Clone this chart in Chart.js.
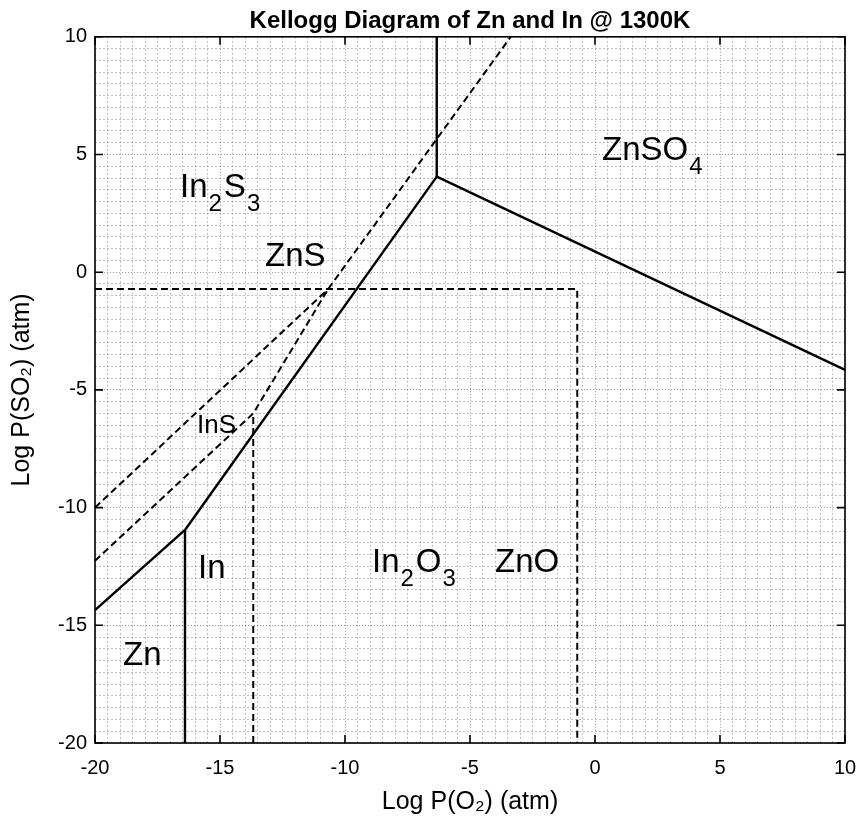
<!DOCTYPE html>
<html>
<head>
<meta charset="utf-8">
<script src="https://cdn.jsdelivr.net/npm/chart.js@4.4.1/dist/chart.umd.min.js"></script>
<style>
html,body{margin:0;padding:0;background:#fff;}
#wrap{width:858px;height:822px;}
</style>
</head>
<body>
<div id="wrap"><canvas id="c" width="858" height="822"></canvas></div>
<script>
// ---- text ----
const titleText = 'Kellogg Diagram of Zn and In @ 1300K';
const xAxisTitle = 'Log P(O\u2082) (atm)';
const yAxisTitle = 'Log P(SO\u2082) (atm)';

// ---- axis ranges / ticks ----
const xMin = -20, xMax = 10;
const yMin = -20, yMax = 10;
const majorStep = 5;
const minorStep = 0.5;

// ---- Zn system boundaries (solid) : log P(O2), log P(SO2) ----
const znZnS_O2   = [-20, -16.4];
const znZnS_SO2  = [-14.35, -10.95];
const znZnO_O2   = [-16.4, -16.4];
const znZnO_SO2  = [-20, -10.95];
const znsZnO_O2  = [-16.4, -6.33];
const znsZnO_SO2 = [-10.95, 4.06];
const znsZnSO4_O2  = [-6.33, -6.33];
const znsZnSO4_SO2 = [4.06, 10];
const znoZnSO4_O2  = [-6.33, 10];
const znoZnSO4_SO2 = [4.06, -4.15];

// ---- In system boundaries (dashed) ----
const insIn2S3_O2  = [-20, -10.67];
const insIn2S3_SO2 = [-10, -0.71];
const inInS_O2  = [-20, -13.67, -10.67];
const inInS_SO2 = [-12.26, -6.0, -0.71];
const in2s3In2O3_O2  = [-10.67, -3.37];
const in2s3In2O3_SO2 = [-0.71, 10];
const sulfateEdge_O2  = [-20, -0.71, -0.71];
const sulfateEdge_SO2 = [-0.71, -0.71, -20];
const inIn2O3_O2  = [-13.67, -13.67];
const inIn2O3_SO2 = [-20, -6.0];

// ---- region labels ----
const regionNames = ['In_2S_3', 'ZnS', 'ZnSO_4', 'InS', 'In', 'Zn', 'In_2O_3', 'ZnO'];
const regionO2    = [-16.6, -13.2, 0.28, -15.92, -15.88, -18.88, -8.92, -4.0];
const regionSO2   = [3.2, 0.27, 4.77, -6.83, -12.99, -16.69, -12.74, -12.74];
const regionFontSize = [33, 33, 33, 26, 33, 33, 33, 33];

const FONT = '"Liberation Sans", Arial, Helvetica, sans-serif';

function pts(xs, ys){ return xs.map((v,i)=>({x:v, y:ys[i]})); }

function solid(xs, ys){
  return {data: pts(xs, ys), showLine:true, borderColor:'#000', borderWidth:2.4,
          pointRadius:0, fill:false, tension:0};
}
function dashed(xs, ys){
  return {data: pts(xs, ys), showLine:true, borderColor:'#000', borderWidth:2,
          borderDash:[7,4], pointRadius:0, fill:false, tension:0};
}

function drawSubText(ctx, str, px, py, size){
  const subSize = Math.round(size*0.72);
  const drop = size*0.42;
  let x = px;
  ctx.textAlign = 'left';
  ctx.textBaseline = 'alphabetic';
  ctx.fillStyle = '#000';
  for (let i=0;i<str.length;i++){
    const ch = str[i];
    if (ch === '_' && i+1 < str.length){
      const s = str[i+1]; i++;
      ctx.font = subSize + 'px ' + FONT;
      ctx.fillText(s, x + 1, py + drop);
      x += ctx.measureText(s).width + 3;
    } else {
      ctx.font = size + 'px ' + FONT;
      ctx.fillText(ch, x, py);
      x += ctx.measureText(ch).width;
    }
  }
}

const overlay = {
  id:'overlay',
  afterLayout(chart){
    if (chart.titleBlock){
      chart.titleBlock.left = chart.chartArea.left;
      chart.titleBlock.right = chart.chartArea.right;
    }
  },
  afterDraw(chart){
    const {ctx, chartArea:a, scales:{x, y}} = chart;
    ctx.save();
    ctx.strokeStyle = '#000';
    ctx.lineWidth = 1.6;
    ctx.setLineDash([]);
    ctx.strokeRect(a.left, a.top, a.right-a.left, a.bottom-a.top);
    const tl = 8;
    ctx.beginPath();
    for (let v=xMin; v<=xMax; v+=majorStep){
      const p = x.getPixelForValue(v);
      ctx.moveTo(p, a.bottom); ctx.lineTo(p, a.bottom-tl);
      ctx.moveTo(p, a.top); ctx.lineTo(p, a.top+tl);
    }
    for (let v=yMin; v<=yMax; v+=majorStep){
      const p = y.getPixelForValue(v);
      ctx.moveTo(a.left, p); ctx.lineTo(a.left+tl, p);
      ctx.moveTo(a.right, p); ctx.lineTo(a.right-tl, p);
    }
    ctx.stroke();
    regionNames.forEach((name, i)=>{
      drawSubText(ctx, name, x.getPixelForValue(regionO2[i]), y.getPixelForValue(regionSO2[i]), regionFontSize[i]);
    });
    ctx.restore();
  }
};

function isMajor(v){ return Math.abs(v/majorStep - Math.round(v/majorStep)) < 1e-9; }

function gridColor(c){ return (c.tick && isMajor(c.tick.value)) ? 'rgba(0,0,0,0.4)' : 'rgba(0,0,0,0.25)'; }
function gridDash(c){ return (c.tick && isMajor(c.tick.value)) ? [1,2] : [2,2]; }

new Chart(document.getElementById('c'), {
  type:'scatter',
  data:{
    datasets:[
      solid(znZnS_O2, znZnS_SO2),
      solid(znZnO_O2, znZnO_SO2),
      solid(znsZnO_O2, znsZnO_SO2),
      solid(znsZnSO4_O2, znsZnSO4_SO2),
      solid(znoZnSO4_O2, znoZnSO4_SO2),
      dashed(insIn2S3_O2, insIn2S3_SO2),
      dashed(inInS_O2, inInS_SO2),
      dashed(in2s3In2O3_O2, in2s3In2O3_SO2),
      dashed(sulfateEdge_O2, sulfateEdge_SO2),
      dashed(inIn2O3_O2, inIn2O3_SO2)
    ]
  },
  options:{
    responsive:false,
    animation:false,
    devicePixelRatio:1,
    layout:{padding:{top:0, right:13, bottom:0, left:0}},
    plugins:{
      legend:{display:false},
      tooltip:{enabled:false},
      title:{display:true, text:titleText, color:'#000',
             font:{family:FONT, size:24, weight:'bold'}, padding:{top:7, bottom:1}}
    },
    scales:{
      x:{
        type:'linear', min:xMin, max:xMax,
        afterFit(s){ s.height = 79; s.paddingLeft = 0; s.paddingRight = 0; },
        ticks:{stepSize:minorStep, autoSkip:false, maxRotation:0, maxTicksLimit:1000,
               padding:13, color:'#000', font:{family:FONT, size:20},
               callback:(v)=> isMajor(v) ? String(v) : ''},
        grid:{drawTicks:false, color:gridColor, lineWidth:1},
        border:{display:false, dash:gridDash},
        title:{display:true, text:xAxisTitle, color:'#000', font:{family:FONT, size:25}, padding:{top:0, bottom:5}}
      },
      y:{
        type:'linear', min:yMin, max:yMax,
        afterFit(s){ s.width = 95; s.paddingTop = 0; s.paddingBottom = 0; },
        ticks:{stepSize:minorStep, autoSkip:false, maxTicksLimit:1000,
               padding:8, color:'#000', font:{family:FONT, size:20},
               callback:(v)=> isMajor(v) ? String(v) : ''},
        grid:{drawTicks:false, color:gridColor, lineWidth:1},
        border:{display:false, dash:gridDash},
        title:{display:true, text:yAxisTitle, color:'#000', font:{family:FONT, size:25}, padding:{top:7, bottom:0}}
      }
    }
  },
  plugins:[overlay]
});
</script>
</body>
</html>
